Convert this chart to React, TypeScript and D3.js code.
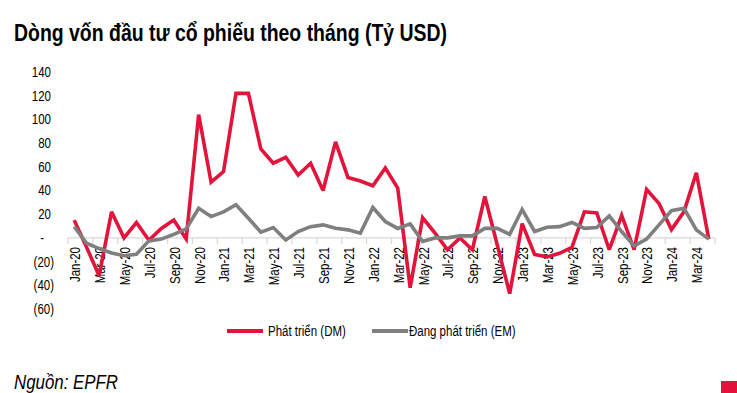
import { useEffect, useRef } from "react";
import * as d3 from "d3";

const months = [
  "Jan-20", "Feb-20", "Mar-20", "Apr-20", "May-20", "Jun-20", "Jul-20", "Aug-20", "Sep-20", "Oct-20", "Nov-20", "Dec-20",
  "Jan-21", "Feb-21", "Mar-21", "Apr-21", "May-21", "Jun-21", "Jul-21", "Aug-21", "Sep-21", "Oct-21", "Nov-21", "Dec-21",
  "Jan-22", "Feb-22", "Mar-22", "Apr-22", "May-22", "Jun-22", "Jul-22", "Aug-22", "Sep-22", "Oct-22", "Nov-22", "Dec-22",
  "Jan-23", "Feb-23", "Mar-23", "Apr-23", "May-23", "Jun-23", "Jul-23", "Aug-23", "Sep-23", "Oct-23", "Nov-23", "Dec-23",
  "Jan-24", "Feb-24", "Mar-24", "Apr-24",
];

// Phát triển (DM)
const dm = [
  15, -8, -32, 22, 0, 13, -2, 8, 15, -1, 104, 47,
  56, 122, 122, 75, 63, 68, 53, 63, 40, 81, 51, 48,
  44, 59, 42, -42, 17, 4, -10, 0, -10, 35, -6, -47,
  12, -14, -16, -13, -8, 22, 21, -10, 19, -10, 41, 29,
  7, 22, 55, -1,
];

// Đang phát triển (EM)
const em = [
  9.5, -4.5, -9, -12.7, -15, -13.8, -2.5, -1, 3, 7.6, 25, 18,
  22, 28, 16.6, 4.8, 8.7, -1.7, 5.3, 9.5, 11, 8.2, 6.8, 4,
  25.6, 13.8, 8, 11.8, -3, 0, 0, 1.7, 1.7, 8, 8, 3,
  24, 5.4, 9, 9.5, 13, 8, 8.7, 18.6, 5.4, -6.8, -1, 11,
  23, 25, 6.8, -1,
];

const yTicks = [140, 120, 100, 80, 60, 40, 20, 0, -20, -40, -60];

const seriesNames = ["Phát triển (DM)", "Đang phát triển (EM)"];
const seriesColors = ["#e2143c", "#7f7f7f"];

const sans = "'Liberation Sans', Arial, sans-serif";
const squeeze = 0.82; // fake Arial Narrow

export default function App() {
  const ref = useRef<SVGSVGElement>(null);

  useEffect(() => {
    const svg = d3.select(ref.current);
    svg.selectAll("*").remove();

    const x = d3.scaleBand().domain(months).range([68, 715]);
    const y = d3.scaleLinear().domain([-60, 140]).range([309, 72]);
    const cx = (m: string) => (x(m) as number) + x.bandwidth() / 2;

    // title
    svg
      .append("text")
      .attr("x", 14)
      .attr("y", 41)
      .attr("textLength", 433)
      .attr("lengthAdjust", "spacingAndGlyphs")
      .style("font-family", sans)
      .style("font-weight", "bold")
      .style("font-size", "23px")
      .style("fill", "#000")
      .text("Dòng vốn đầu tư cổ phiếu theo tháng (Tỷ USD)");

    // y labels (accounting format)
    svg
      .append("g")
      .selectAll("text")
      .data(yTicks)
      .enter()
      .append("text")
      .attr(
        "transform",
        (d) => `translate(${d > 0 ? 51 : d === 0 ? 44 : 54},${y(d)}) scale(${squeeze},1)`
      )
      .attr("dy", "0.35em")
      .attr("text-anchor", "end")
      .style("font-family", sans)
      .style("font-size", "14px")
      .style("fill", "#000")
      .text((d) => (d > 0 ? String(d) : d === 0 ? "-" : `(${-d})`));

    // x axis line + ticks every 2 months
    const axis = svg.append("g");
    axis
      .append("line")
      .attr("x1", 68)
      .attr("x2", 715)
      .attr("y1", y(0))
      .attr("y2", y(0))
      .attr("stroke", "#d9d9d9")
      .attr("stroke-width", 1.2);

    const tickPos = months
      .filter((_, i) => i % 2 === 0)
      .map((m) => x(m) as number)
      .concat([715]);
    axis
      .selectAll("line.tick")
      .data(tickPos)
      .enter()
      .append("line")
      .attr("class", "tick")
      .attr("x1", (d) => d)
      .attr("x2", (d) => d)
      .attr("y1", y(0))
      .attr("y2", y(0) + 6)
      .attr("stroke", "#d9d9d9")
      .attr("stroke-width", 1.2);

    // x labels, every other month, rotated
    svg
      .append("g")
      .selectAll("text")
      .data(months.filter((_, i) => i % 2 === 0))
      .enter()
      .append("text")
      .attr(
        "transform",
        (m) => `translate(${cx(m) + 1},${247}) rotate(-90) scale(${squeeze},1)`
      )
      .attr("dy", "0.35em")
      .attr("text-anchor", "end")
      .style("font-family", sans)
      .style("font-size", "14px")
      .style("fill", "#000")
      .text((m) => m);

    // lines
    const line = d3
      .line<number>()
      .x((_, i) => cx(months[i]))
      .y((d) => y(d));

    [dm, em].forEach((vals, k) => {
      svg
        .append("path")
        .datum(vals)
        .attr("d", line)
        .attr("fill", "none")
        .attr("stroke", seriesColors[k])
        .attr("stroke-width", 3.6)
        .attr("stroke-linejoin", "miter")
        .attr("stroke-miterlimit", 3);
    });

    // legend
    const legendX = [227, 372];
    const legend = svg.append("g");
    seriesNames.forEach((name, k) => {
      legend
        .append("line")
        .attr("x1", legendX[k])
        .attr("x2", legendX[k] + 36)
        .attr("y1", 331)
        .attr("y2", 331)
        .attr("stroke", seriesColors[k])
        .attr("stroke-width", 4);
      legend
        .append("text")
        .attr(
          "transform",
          `translate(${legendX[k] + (k === 0 ? 41 : 37)},331) scale(${squeeze},1)`
        )
        .attr("dy", "0.35em")
        .style("font-family", sans)
        .style("font-size", "14px")
        .style("fill", "#000")
        .text(name);
    });

    // source
    svg
      .append("text")
      .attr("x", 14)
      .attr("y", 389)
      .attr("textLength", 104)
      .attr("lengthAdjust", "spacingAndGlyphs")
      .style("font-family", sans)
      .style("font-style", "italic")
      .style("font-size", "20px")
      .style("fill", "#000")
      .text("Nguồn: EPFR");

    svg
      .append("rect")
      .attr("x", 721)
      .attr("y", 381)
      .attr("width", 16)
      .attr("height", 12)
      .attr("fill", "#e2143c");
  }, []);

  return (
    <svg
      ref={ref}
      width={737}
      height={393}
      style={{ position: "absolute", left: 0, top: 0, background: "#fff" }}
    />
  );
}
